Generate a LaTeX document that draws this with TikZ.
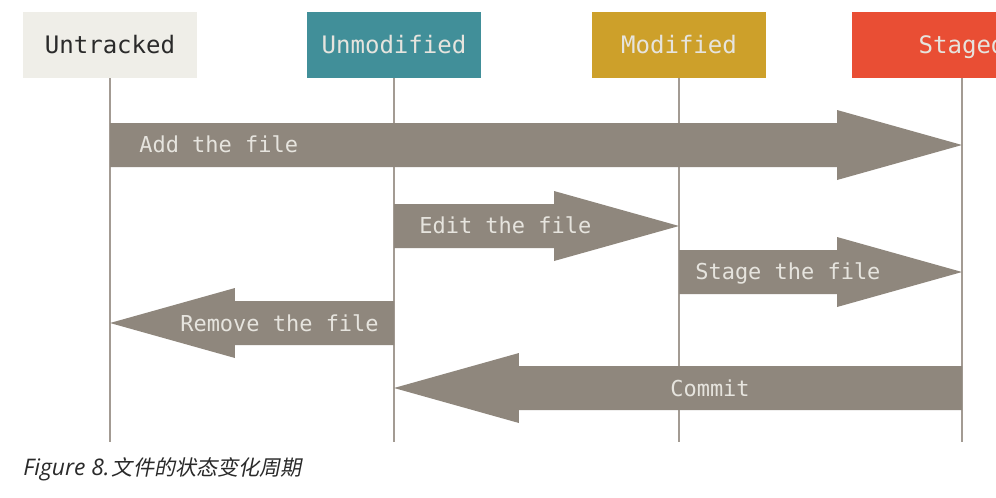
\documentclass[tikz,border=0pt]{standalone}
\usepackage{fontspec}
\setmonofont{DejaVu Sans Mono}
\newfontfamily\capfont{Open Sans}
\newfontfamily\cjk{Noto Sans CJK SC}[FakeSlant=0.2]
\usepackage{tikz}
\usetikzlibrary{calc}

\definecolor{untrackedc}{HTML}{EFEEE8}
\definecolor{unmodc}{HTML}{418F99}
\definecolor{modc}{HTML}{CDA02A}
\definecolor{stagedc}{HTML}{E94E34}
\definecolor{flowgrey}{HTML}{8F877D}
\definecolor{lifegrey}{HTML}{A39B93}
\definecolor{lbltext}{HTML}{E6E4DE}
\definecolor{darktext}{HTML}{2A2A2A}

% fat arrow from #1 to #2, tip at #2
\newcommand{\fatarrow}[2]{%
  \coordinate (hb) at ($(#2)!2.5cm!(#1)$);
  \fill[flow] ($(#1)+(0,-22)$) -- ($(hb)+(0,-22)$) -- ($(hb)+(0,-35)$) -- (#2)
    -- ($(hb)+(0,35)$) -- ($(hb)+(0,22)$) -- ($(#1)+(0,22)$) -- cycle;}

\begin{document}
\begin{tikzpicture}[x=0.02cm, y=-0.02cm,
state/.style={minimum width=3.5cm, minimum height=1.32cm, inner sep=0pt, text height=10pt, text depth=0pt, font=\ttfamily\fontsize{13.7}{16}\selectfont},
life/.style={draw=lifegrey, line width=1.1pt},
flow/.style={fill=flowgrey},
lbl/.style={text=lbltext, inner sep=0pt, text height=9.1pt, text depth=0pt, font=\ttfamily\fontsize{12.5}{15}\selectfont}]

\clip (0,0) rectangle (996,497);
\fill[white] (0,0) rectangle (996,497);

\node[state, fill=untrackedc, text=darktext] (untracked) at (110,45) {Untracked};
\node[state, fill=unmodc, text=lbltext] (unmodified) at (394,45) {Unmodified};
\node[state, fill=modc, text=lbltext] (modified) at (679,45) {Modified};
\node[state, fill=stagedc, text=lbltext, minimum width=4.4cm] (staged) at (962,45) {Staged};

\foreach \s in {untracked,unmodified,modified,staged}
  \draw[life] (\s.south) -- ++(0,364);

\path (untracked |- 0,145) coordinate (add-s) (staged |- 0,145) coordinate (add-e)
  (unmodified |- 0,226) coordinate (edit-s) (modified |- 0,226) coordinate (edit-e)
  (modified |- 0,272) coordinate (stage-s) (staged |- 0,272) coordinate (stage-e)
  (unmodified |- 0,323) coordinate (rm-s) (untracked |- 0,323) coordinate (rm-e)
  (staged |- 0,388) coordinate (commit-s) (unmodified |- 0,388) coordinate (commit-e);

\fatarrow{add-s}{add-e}
\fatarrow{edit-s}{edit-e}
\fatarrow{stage-s}{stage-e}
\fatarrow{rm-s}{rm-e}
\fatarrow{commit-s}{commit-e}

\node[lbl, anchor=west] (addlbl) at (139,145) {Add the file};
\node[lbl, anchor=west] (editlbl) at (419,226) {Edit the file};
\node[lbl, anchor=west] (stagelbl) at (695,272) {Stage the file};
\node[lbl, anchor=east] (rmlbl) at (379,323) {Remove the file};
\node[lbl] (commitlbl) at (710,388) {Commit};

\node[anchor=base west, inner sep=0pt, text=darktext, font=\capfont\itshape\fontsize{13}{15}\selectfont] (caption) at (23,475) {Figure 8.\hspace{0.1em}{\cjk\fontsize{12}{15}\selectfont 文件的状态变化周期}};
\end{tikzpicture}
\end{document}
